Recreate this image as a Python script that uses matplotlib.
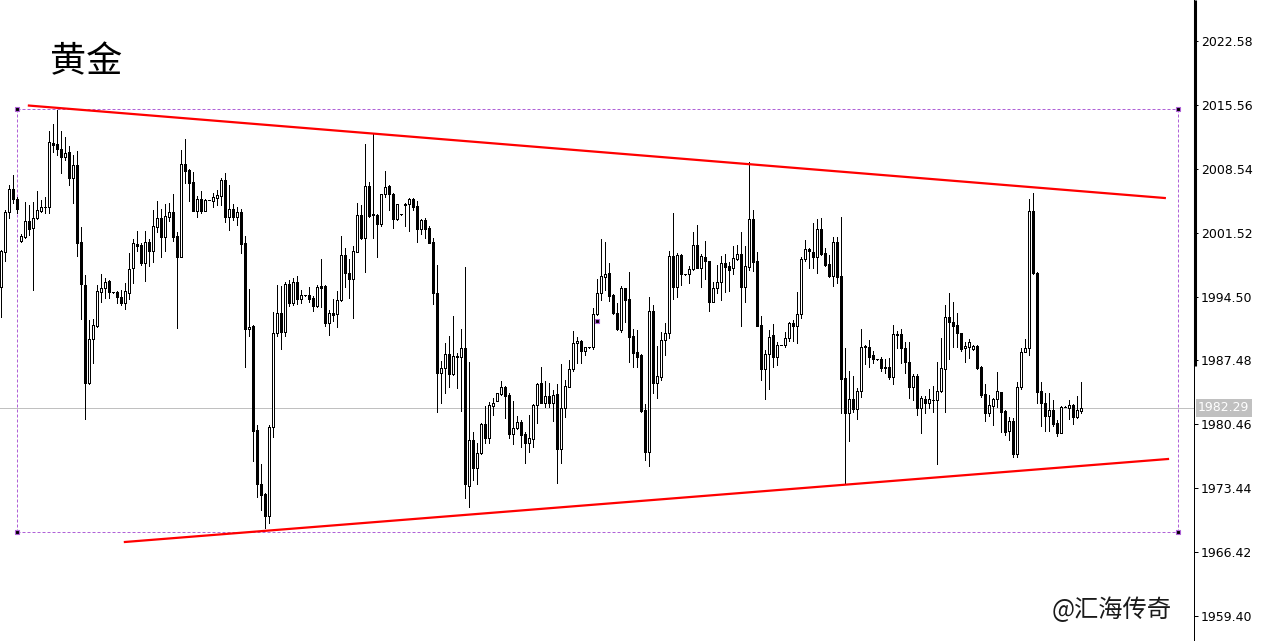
import numpy as np
import matplotlib
matplotlib.use("Agg")
import matplotlib.pyplot as plt
from matplotlib.lines import Line2D
from matplotlib.transforms import blended_transform_factory

plt.rcParams['font.family'] = ['Noto Sans CJK SC', 'DejaVu Sans']

# OHLC values (one candle per bar, left to right)
opens = [
    1995.51, 1999.44, 2003.76, 2006.28, 2005.18, 2000.57, 2001.01, 2002.80, 2002.00, 2003.10,
    2003.94, 2004.38, 2004.31, 2011.34, 2011.27, 2010.68, 2009.80, 2010.35, 2007.49, 2008.96,
    2000.46, 1995.77, 1985.04, 1989.80, 1991.30, 1995.04, 1995.40, 1996.21, 1994.96, 1995.00,
    1994.41, 1993.83, 1994.93, 1997.60, 2000.24, 2000.17, 1998.22, 2000.46, 1999.54, 2002.18,
    2003.10, 2001.01, 2003.28, 2003.76, 2001.16, 1998.88, 2009.03, 2008.41, 2007.05, 2003.94,
    2005.18, 2003.94, 2005.11, 2005.04, 2005.37, 2005.59, 2007.28, 2003.28, 2004.12, 2003.28,
    2003.76, 2000.35, 1990.90, 1991.26, 1979.84, 1973.87, 1972.80, 1970.42, 1980.13, 1990.46,
    1992.66, 1990.64, 1995.84, 1993.83, 1996.14, 1994.27, 1994.63, 1994.63, 1994.34, 1993.50,
    1995.66, 1995.66, 1991.63, 1992.66, 1992.55, 1994.12, 1999.07, 1997.13, 1996.47, 1999.44,
    2003.46, 2000.90, 2006.65, 2003.54, 2003.46, 2002.44, 2005.73, 2006.65, 2005.73, 2002.99,
    2003.54, 2004.67, 2004.63, 2005.22, 2004.45, 2001.96, 2002.91, 2002.00, 2000.46, 1994.85,
    1986.14, 1986.61, 1988.19, 1985.95, 1987.82, 1987.82, 1988.81, 1973.72, 1978.74, 1975.62,
    1977.27, 1980.50, 1978.92, 1982.51, 1983.06, 1983.79, 1984.53, 1983.68, 1979.36, 1980.09,
    1980.68, 1979.36, 1978.37, 1978.81, 1982.58, 1984.96, 1982.84, 1983.57, 1982.84, 1983.76,
    1977.71, 1982.22, 1984.60, 1986.50, 1989.36, 1989.62, 1988.55, 1988.92, 1988.92, 1992.58,
    1994.85, 1996.69, 1997.05, 1994.67, 1992.66, 1990.83, 1995.40, 1994.19, 1990.17, 1988.37,
    1988.08, 1982.04, 1977.38, 1992.92, 1985.04, 1985.70, 1989.73, 1990.46, 1998.96, 1995.51,
    1999.07, 1996.94, 1996.94, 1997.49, 2000.13, 1997.68, 1998.81, 1998.37, 1993.94, 1995.40,
    1996.06, 1998.16, 1997.86, 1997.60, 1998.63, 1999.14, 1995.59, 1997.78, 2003.02, 1998.37,
    1991.37, 1986.50, 1988.15, 1990.24, 1987.89, 1989.18, 1989.14, 1989.98, 1991.56, 1991.30,
    1992.55, 1998.59, 1999.69, 1999.44, 1998.88, 2001.92, 1999.25, 1998.08, 1996.80, 2000.46,
    1996.76, 1985.51, 1981.67, 1983.21, 1982.11, 1984.12, 1988.92, 1988.92, 1988.08, 1987.60,
    1987.60, 1986.80, 1986.80, 1985.70, 1990.28, 1990.35, 1988.81, 1987.27, 1984.60, 1985.77,
    1982.22, 1983.24, 1982.77, 1983.13, 1983.13, 1984.12, 1986.50, 1992.22, 1991.74, 1991.37,
    1990.46, 1988.81, 1989.00, 1988.70, 1989.07, 1986.80, 1983.76, 1981.74, 1982.47, 1983.21,
    1983.98, 1981.92, 1979.76, 1980.86, 1977.16, 1984.53, 1988.44, 1988.88, 2003.90, 1997.13,
    1984.12, 1982.84, 1981.41, 1982.04, 1980.64, 1979.54, 1982.40, 1982.22, 1982.58, 1981.23,
    1981.96,
]
highs = [
    1999.62, 2004.01, 2006.76, 2007.86, 2005.48, 2001.34, 2004.89, 2004.53, 2004.89, 2006.10,
    2005.11, 2005.48, 2012.70, 2013.46, 2015.00, 2012.70, 2012.07, 2011.05, 2010.06, 2010.50,
    2002.14, 1996.87, 1991.92, 1992.07, 1995.77, 1996.98, 1996.50, 1996.32, 1995.00, 1995.07,
    1995.22, 1996.03, 1999.32, 2000.79, 2001.70, 2000.42, 2001.70, 2000.79, 2004.01, 2005.00,
    2004.09, 2004.63, 2004.82, 2005.73, 2001.56, 2010.61, 2011.81, 2008.48, 2008.23, 2005.55,
    2006.10, 2005.18, 2005.15, 2005.85, 2006.21, 2007.57, 2008.11, 2006.76, 2004.63, 2004.38,
    2004.12, 2001.16, 1995.33, 1991.34, 1980.39, 1976.10, 1972.95, 1980.39, 1992.77, 1995.77,
    1995.66, 1996.14, 1996.32, 1996.50, 1996.76, 1995.22, 1994.67, 1995.59, 1994.56, 1995.77,
    1998.63, 1995.73, 1993.02, 1994.23, 1995.11, 2001.16, 1999.87, 1998.59, 2000.09, 2004.74,
    2004.56, 2011.26, 2007.13, 2012.33, 2003.54, 2005.75, 2008.30, 2006.76, 2005.85, 2004.65,
    2003.58, 2004.74, 2005.29, 2005.37, 2005.00, 2002.99, 2003.10, 2002.25, 2000.90, 1997.97,
    1987.42, 1989.36, 1990.17, 1992.36, 1988.33, 1990.94, 1997.71, 1987.34, 1979.65, 1978.44,
    1980.64, 1982.47, 1982.95, 1983.39, 1983.94, 1985.22, 1984.67, 1983.94, 1983.02, 1981.37,
    1980.94, 1979.65, 1981.48, 1982.66, 1985.04, 1986.80, 1985.22, 1985.04, 1984.23, 1984.86,
    1987.09, 1985.33, 1987.53, 1990.72, 1990.09, 1989.73, 1989.00, 1988.96, 1993.21, 1996.43,
    2000.83, 2000.53, 1998.22, 1994.74, 1993.76, 1995.66, 1995.48, 1997.24, 1990.90, 1990.83,
    1988.15, 1982.71, 1994.49, 1993.59, 1989.07, 1990.64, 1991.63, 1999.54, 2003.72, 1999.32,
    1999.14, 1996.98, 1997.86, 2001.63, 2002.36, 1999.18, 2000.61, 1998.44, 1996.14, 1997.97,
    1998.96, 1999.18, 1998.33, 2000.06, 2000.17, 2001.56, 2000.09, 2009.32, 2004.01, 1999.36,
    1992.36, 1988.63, 1990.83, 1991.48, 1989.47, 1989.22, 1990.57, 1991.74, 1991.92, 1994.96,
    1998.88, 2000.72, 1999.87, 2002.55, 2002.99, 2003.10, 1999.87, 1999.07, 2001.08, 2001.08,
    2003.28, 1988.81, 1986.36, 1985.77, 1984.42, 1990.94, 1989.18, 1989.73, 1988.55, 1987.64,
    1987.82, 1987.60, 1987.78, 1991.37, 1990.72, 1990.94, 1989.47, 1989.54, 1985.99, 1985.95,
    1983.57, 1983.57, 1984.31, 1984.71, 1987.34, 1989.99, 1993.59, 1994.93, 1993.94, 1992.73,
    1990.53, 1989.54, 1989.80, 1989.18, 1989.18, 1986.87, 1984.89, 1983.68, 1983.32, 1986.25,
    1984.05, 1982.00, 1981.30, 1981.12, 1985.07, 1988.81, 1989.84, 2005.22, 2005.85, 1997.20,
    1985.15, 1983.94, 1983.87, 1983.13, 1980.94, 1982.47, 1982.44, 1983.13, 1982.66, 1983.61,
    1985.15,
]
lows = [
    1992.22, 1998.44, 2003.17, 2004.82, 2003.65, 2000.45, 2000.90, 2001.30, 1995.22, 2002.99,
    2003.83, 2003.65, 2003.65, 2010.42, 2010.06, 2008.11, 2009.51, 2006.80, 2004.74, 1998.99,
    1992.00, 1981.01, 1984.90, 1987.16, 1991.19, 1993.94, 1994.38, 1994.38, 1994.92, 1993.83,
    1993.61, 1993.17, 1994.23, 1996.03, 1999.54, 1997.97, 1996.21, 1997.89, 1998.33, 2001.63,
    1998.88, 1999.54, 2002.84, 2000.64, 1991.08, 1998.80, 2006.94, 2005.04, 2003.90, 2003.28,
    2003.72, 2003.90, 2005.07, 2004.38, 2004.56, 2004.56, 2002.73, 2001.81, 2002.91, 2002.36,
    1999.25, 1986.80, 1990.20, 1976.47, 1972.51, 1971.05, 1969.03, 1969.58, 1979.10, 1990.20,
    1988.70, 1990.20, 1993.50, 1993.57, 1993.68, 1993.76, 1994.60, 1993.87, 1992.95, 1993.32,
    1993.39, 1991.30, 1990.28, 1991.85, 1991.12, 1994.05, 1995.59, 1994.38, 1992.18, 1999.36,
    2000.83, 1997.24, 2003.28, 2000.90, 1998.88, 2002.25, 2005.48, 2004.01, 2002.07, 2002.95,
    2003.50, 2002.25, 2001.74, 2004.01, 2000.46, 2001.34, 2000.97, 2000.35, 1993.68, 1981.78,
    1982.77, 1983.94, 1984.60, 1985.88, 1984.49, 1981.96, 1972.33, 1971.41, 1974.34, 1973.87,
    1977.20, 1978.37, 1978.44, 1981.48, 1983.02, 1983.72, 1981.12, 1978.92, 1978.26, 1979.91,
    1978.00, 1976.25, 1977.38, 1977.93, 1980.64, 1982.77, 1982.33, 1982.40, 1980.86, 1973.98,
    1976.25, 1981.30, 1984.53, 1986.36, 1987.16, 1987.16, 1988.08, 1988.88, 1988.70, 1992.47,
    1994.12, 1995.22, 1994.05, 1992.58, 1990.83, 1990.64, 1991.74, 1987.34, 1986.80, 1986.80,
    1981.78, 1976.54, 1975.92, 1983.94, 1983.32, 1985.33, 1988.08, 1989.92, 1994.19, 1994.49,
    1995.77, 1996.90, 1995.95, 1997.42, 1997.60, 1995.59, 1996.43, 1992.95, 1993.87, 1994.85,
    1994.12, 1995.04, 1995.15, 1996.94, 1998.55, 1991.26, 1993.87, 1997.42, 1997.35, 1991.23,
    1985.33, 1983.21, 1984.31, 1986.80, 1986.98, 1989.14, 1988.92, 1989.66, 1989.66, 1989.36,
    1992.18, 1998.41, 1997.60, 1997.60, 1997.13, 1999.10, 1997.90, 1996.69, 1995.70, 1996.03,
    1981.67, 1973.90, 1978.66, 1981.85, 1981.01, 1983.50, 1987.05, 1986.80, 1987.16, 1987.56,
    1986.36, 1986.14, 1985.41, 1984.86, 1988.81, 1987.16, 1986.06, 1983.32, 1983.13, 1981.48,
    1979.54, 1981.67, 1982.29, 1981.85, 1976.06, 1984.05, 1981.85, 1987.60, 1988.92, 1988.92,
    1988.52, 1987.34, 1987.78, 1988.63, 1986.50, 1983.50, 1980.86, 1981.41, 1980.39, 1982.33,
    1979.65, 1979.29, 1978.74, 1976.91, 1976.91, 1984.36, 1988.37, 1988.08, 1996.94, 1982.84,
    1980.31, 1979.73, 1979.76, 1980.28, 1979.21, 1979.47, 1982.36, 1981.01, 1980.50, 1981.16,
    1981.74,
]
closes = [
    1999.51, 2003.76, 2006.28, 2005.18, 2004.09, 2001.16, 2002.80, 2001.96, 2003.10, 2004.01,
    2004.38, 2004.31, 2011.45, 2011.19, 2010.68, 2009.80, 2010.24, 2007.49, 2008.96, 2000.42,
    1995.84, 1985.04, 1989.80, 1991.34, 1995.11, 1995.40, 1996.10, 1994.96, 1994.96, 1994.41,
    1993.76, 1995.11, 1997.49, 2000.35, 2000.09, 1998.22, 2000.46, 1999.54, 2002.25, 2003.10,
    2001.01, 2003.35, 2003.76, 2001.08, 1998.88, 2009.03, 2008.33, 2007.02, 2003.94, 2005.18,
    2003.94, 2005.11, 2005.11, 2005.41, 2005.63, 2007.28, 2003.28, 2004.12, 2003.28, 2003.76,
    2000.28, 1990.90, 1991.12, 1979.76, 1973.87, 1972.69, 1970.42, 1980.13, 1990.46, 1992.66,
    1990.64, 1995.84, 1993.83, 1996.14, 1994.23, 1994.63, 1994.63, 1994.27, 1993.50, 1995.51,
    1995.48, 1991.63, 1992.66, 1992.47, 1994.12, 1999.07, 1997.05, 1996.47, 1999.51, 2003.46,
    2000.90, 2006.65, 2003.39, 2003.46, 2002.44, 2005.73, 2006.50, 2005.73, 2002.99, 2004.63,
    2003.54, 2004.53, 2005.18, 2004.38, 2001.96, 2002.91, 2001.96, 2000.42, 1994.85, 1986.14,
    1986.61, 1988.19, 1985.95, 1987.97, 1987.97, 1988.81, 1973.87, 1978.74, 1975.70, 1977.27,
    1980.50, 1979.00, 1982.58, 1982.77, 1983.87, 1984.53, 1983.57, 1979.36, 1980.09, 1980.68,
    1979.29, 1978.37, 1978.92, 1982.58, 1984.89, 1982.84, 1983.57, 1982.84, 1983.68, 1977.71,
    1982.22, 1984.71, 1986.50, 1989.36, 1989.62, 1988.55, 1988.92, 1988.92, 1992.58, 1994.85,
    1996.76, 1996.98, 1994.60, 1992.66, 1990.94, 1995.40, 1994.12, 1990.09, 1988.33, 1987.89,
    1981.96, 1977.38, 1992.92, 1985.04, 1985.77, 1989.73, 1990.46, 1998.96, 1995.59, 1999.07,
    1996.94, 1996.94, 1997.49, 2000.13, 1997.68, 1998.96, 1998.44, 1993.94, 1995.40, 1996.06,
    1998.16, 1997.78, 1997.42, 1998.70, 1999.14, 1995.59, 1997.86, 2003.02, 1998.33, 1991.30,
    1986.50, 1988.15, 1990.09, 1987.89, 1989.18, 1989.18, 1989.98, 1991.56, 1991.30, 1992.55,
    1998.59, 1999.69, 1999.54, 1998.88, 2001.92, 1999.18, 1997.97, 1996.80, 2000.46, 1996.69,
    1985.44, 1981.67, 1983.21, 1982.11, 1984.12, 1988.92, 1989.07, 1987.89, 1987.60, 1987.60,
    1986.61, 1986.61, 1985.70, 1990.35, 1990.42, 1988.81, 1987.27, 1984.60, 1985.77, 1982.22,
    1983.32, 1982.77, 1983.24, 1983.13, 1984.12, 1986.61, 1992.22, 1991.74, 1991.30, 1990.46,
    1988.70, 1989.07, 1989.47, 1989.07, 1986.69, 1983.68, 1981.74, 1982.58, 1983.24, 1984.12,
    1981.85, 1979.65, 1980.86, 1977.16, 1984.53, 1988.37, 1988.81, 2003.90, 1997.13, 1984.05,
    1982.77, 1981.37, 1982.04, 1980.50, 1979.54, 1982.40, 1982.40, 1982.58, 1981.23, 1982.04,
    1982.29,
]

price_ticks = [2022.58, 2015.56, 2008.54, 2001.52, 1994.50, 1987.48,
               1980.46, 1973.44, 1966.42, 1959.40]
last_price = 1982.29

# trendlines (bar index, price)
upper_line = ([6.9, 290.9], [2015.49, 2005.33])
lower_line = ([30.9, 291.7], [1967.53, 1976.65])
# high/low range box
range_x = [3.9, 294.2]
range_y = [1968.62, 2015.11]
# stray object anchor point
anchor_point = (148.9, 1991.81)

title = "黄金"
watermark = "@汇海传奇"

W, H = 1263, 641
fig = plt.figure(figsize=(W / 100, H / 100), dpi=100)
fig.patch.set_facecolor('white')
ax = fig.add_axes([0, 0, 1194 / W, 1])
ax.set_facecolor('white')

o = np.array(opens)
h = np.array(highs)
l = np.array(lows)
c = np.array(closes)
x = np.arange(len(o))

xmin, xmax = -0.33, 298.2
ymin, ymax = 1956.65, 2027.09
ax.set_xlim(xmin, xmax)
ax.set_ylim(ymin, ymax)

px = 0.72  # one pixel in points

# current price line
ax.axhline(last_price, color='#c0c0c0', lw=px, zorder=1)

# range box (dashed violet)
box_col = '#b062d8'
ax.plot([range_x[0], range_x[1]], [range_y[1], range_y[1]], color=box_col, lw=px,
        dashes=(3, 2), zorder=1)
ax.plot([range_x[0], range_x[1]], [range_y[0], range_y[0]], color=box_col, lw=px,
        dashes=(3, 2), zorder=1)
ax.plot([range_x[0], range_x[0]], range_y, color=box_col, lw=px, dashes=(3, 2), zorder=1)
ax.plot([range_x[1], range_x[1]], range_y, color=box_col, lw=px, dashes=(3, 2), zorder=1)
for bx in range_x:
    for by in range_y:
        ax.plot(bx, by, marker='s', ms=3.5, mfc='black', mec=box_col, mew=0.8, zorder=5)

# candles: wicks then bodies
ax.vlines(x, l, h, color='black', lw=px, antialiased=False, zorder=2)
bull = c >= o
faces = np.where(bull, 'white', 'black')
ax.bar(x, np.abs(c - o), bottom=np.minimum(o, c), width=0.5, color=faces,
       edgecolor='black', linewidth=px, antialiased=False, zorder=3)

ax.plot(*anchor_point, marker='s', ms=3.5, mfc='black', mec=box_col, mew=0.8, zorder=5)

# trendlines
ax.plot(*upper_line, color='#ff0000', lw=1.6, zorder=4)
ax.plot(*lower_line, color='#ff0000', lw=1.6, zorder=4)

# right price scale
for side in ['top', 'left', 'bottom']:
    ax.spines[side].set_visible(False)
ax.spines['right'].set_color('black')
ax.spines['right'].set_linewidth(px)
fig.add_artist(Line2D([1194.5 / W, 1194.5 / W], [1 - 366 / H, 1], color='black',
                      lw=2.2, solid_capstyle='butt'))
ax.set_xticks([])
ax.yaxis.tick_right()
ax.set_yticks(price_ticks)
ax.set_yticklabels([f"{v:.2f}" for v in price_ticks])
ax.tick_params(axis='y', direction='out', length=3, width=px, pad=2,
               labelsize=9, colors='black')
for lab in ax.get_yticklabels():
    lab.set_family('DejaVu Sans')

trans = blended_transform_factory(fig.transFigure, ax.transData)
fig.text(1198 / W, last_price, f"{last_price:.2f}", transform=trans, ha='left',
         va='center', fontsize=9, color='white', family='DejaVu Sans',
         bbox=dict(boxstyle='square,pad=0.2', facecolor='#c0c0c0', edgecolor='none'))

fig.text(50 / W, 1 - 62 / H, title, fontsize=26, ha='left', va='center', color='black')
fig.text(1052 / W, 1 - 610 / H, watermark, fontsize=17.5, ha='left', va='center',
         color='#1a1a1a')

fig.savefig('out.png', dpi=100, facecolor='white')
